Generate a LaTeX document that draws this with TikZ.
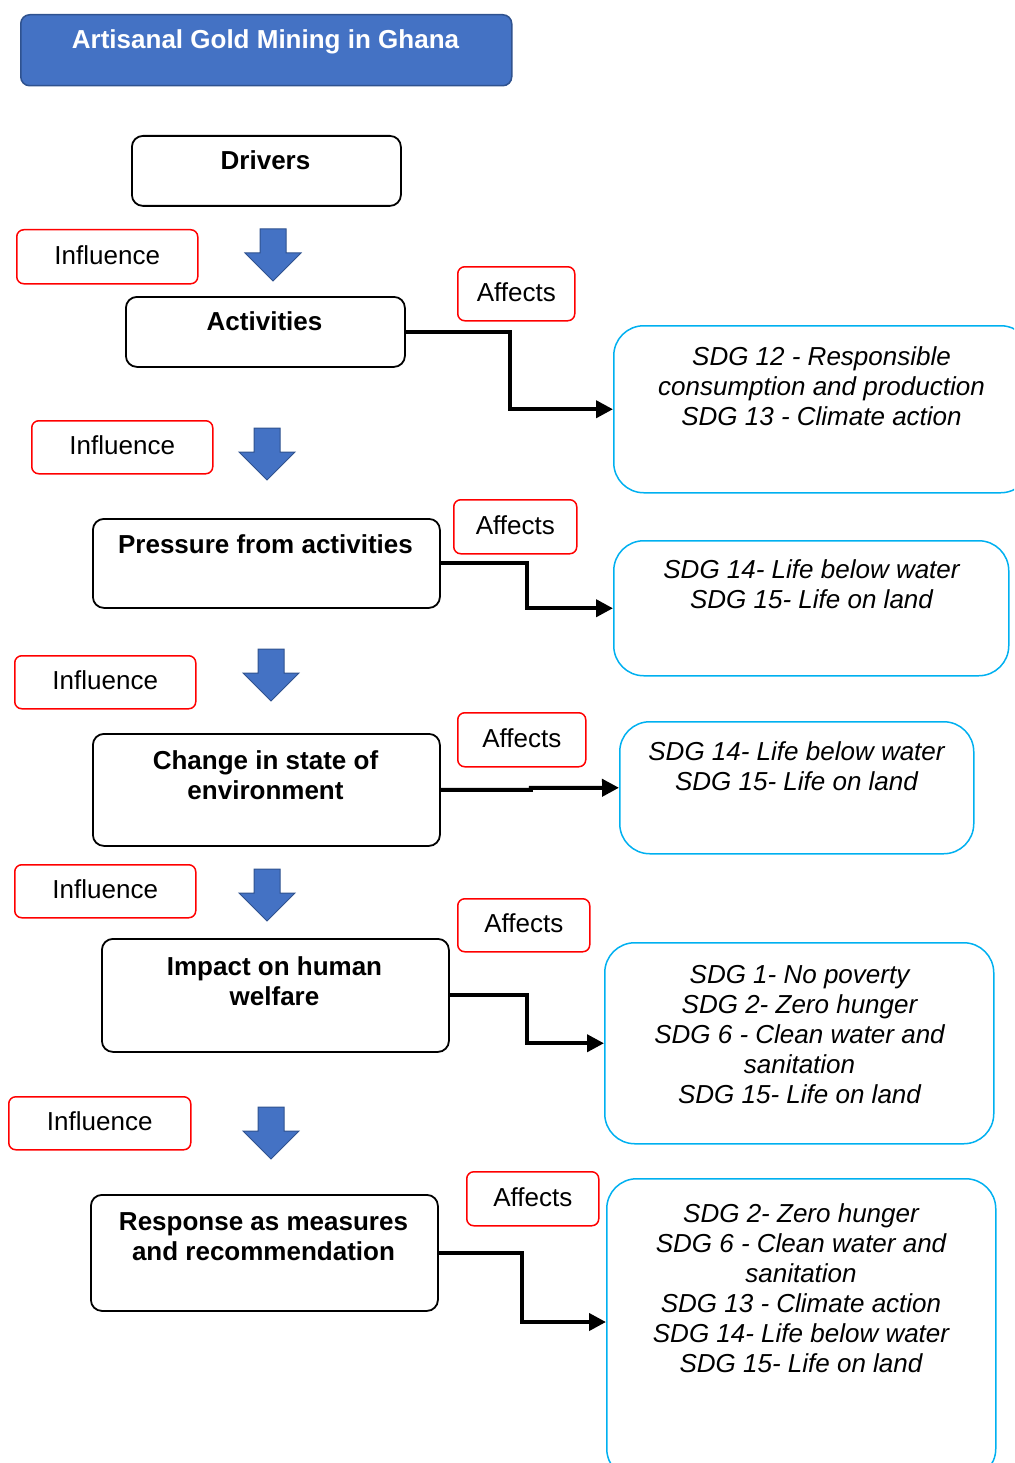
\documentclass[tikz,border=0pt]{standalone}
\usepackage{fontspec}
\setmainfont{Liberation Sans}
\usetikzlibrary{arrows.meta,calc}
\definecolor{titleblue}{HTML}{4472C4}
\definecolor{titleedge}{HTML}{2F528F}
\definecolor{sdgedge}{HTML}{00B0F0}
\begin{document}
\begin{tikzpicture}[x=1pt,y=-1pt,
  font=\fontsize{26}{30}\selectfont,
  titlebox/.style={draw=titleedge, fill=titleblue, line width=1.5pt, rounded corners=9pt, inner sep=0pt, anchor=north west},
  mainbox/.style={draw=black, line width=1.8pt, rounded corners=11pt, inner sep=0pt, anchor=north west},
  tagbox/.style={draw=red, line width=1.5pt, rounded corners=7pt, inner sep=0pt, anchor=north west},
  tagtext/.style={yshift=2pt},
  sdgbox/.style={draw=sdgedge, line width=1.5pt, rounded corners=30pt, inner sep=0pt, anchor=north west},
  boldtext/.style={font=\fontsize{26}{30}\selectfont\bfseries, align=center, inner sep=0pt, anchor=north},
  sdgtext/.style={font=\fontsize{26}{30}\selectfont\itshape, align=center, inner sep=0pt, anchor=north},
  conn/.style={line width=4pt, -{Triangle[length=17pt,width=17pt]}},
  downarr/.pic={\draw[fill=titleblue, draw=titleedge, line width=1pt]
     (-13,0) -- (13,0) -- (13,24) -- (28,24) -- (0,52) -- (-28,24) -- (-13,24) -- cycle;}
]
\useasboundingbox (0,0) rectangle (1014,1463);
\clip (0,0) rectangle (1014,1463);

% title
\node[titlebox, minimum width=491pt, minimum height=71pt] (title) at (20,14) {};
\node[text=white, font=\fontsize{26}{30}\selectfont\bfseries, anchor=base] (titletext) at (265.5,49) {Artisanal Gold Mining in Ghana};

% main boxes
\node[mainbox, minimum width=269pt, minimum height=70pt] (drivers) at (131,135) {};
\node[boldtext] (driverst) at (265.5,150) {Drivers};

\node[mainbox, minimum width=279pt, minimum height=70pt] (act) at (125,296) {};
\node[boldtext] (actt) at (264.5,311) {Activities};

\node[mainbox, minimum width=347pt, minimum height=89pt] (press) at (92,518) {};
\node[boldtext] (presst) at (265.5,534) {Pressure from activities};

\node[mainbox, minimum width=347pt, minimum height=112pt] (change) at (92,733) {};
\node[boldtext] (changet) at (265.5,750) {Change in state of\\environment};

\node[mainbox, minimum width=347pt, minimum height=113pt] (impact) at (101,938) {};
\node[boldtext] (impactt) at (274.5,956) {Impact on human\\welfare};

\node[mainbox, minimum width=347pt, minimum height=116pt] (resp) at (90,1194) {};
\node[boldtext] (respt) at (263.5,1212) {Response as measures\\and recommendation};

% influence tags
\node[tagbox, minimum width=181pt, minimum height=54pt] (inf1) at (16,229) {};
\node[tagtext] (inf1t) at (inf1.center) {Influence};
\node[tagbox, minimum width=181pt, minimum height=53pt] (inf2) at (31,420) {};
\node[tagtext] (inf2t) at (inf2.center) {Influence};
\node[tagbox, minimum width=181pt, minimum height=53pt] (inf3) at (14,655) {};
\node[tagtext] (inf3t) at (inf3.center) {Influence};
\node[tagbox, minimum width=181pt, minimum height=53pt] (inf4) at (14,864) {};
\node[tagtext] (inf4t) at (inf4.center) {Influence};
\node[tagbox, minimum width=182pt, minimum height=53pt] (inf5) at (8,1096) {};
\node[tagtext] (inf5t) at (inf5.center) {Influence};

% affects tags
\node[tagbox, minimum width=117pt, minimum height=54pt] (aff1) at (457,266) {};
\node[tagtext] (aff1t) at (aff1.center) {Affects};
\node[tagbox, minimum width=123pt, minimum height=54pt] (aff2) at (453,499) {};
\node[tagtext] (aff2t) at (aff2.center) {Affects};
\node[tagbox, minimum width=128pt, minimum height=54pt] (aff3) at (457,712) {};
\node[tagtext] (aff3t) at (aff3.center) {Affects};
\node[tagbox, minimum width=132pt, minimum height=53pt] (aff4) at (457,898) {};
\node[tagtext] (aff4t) at (aff4.center) {Affects};
\node[tagbox, minimum width=132pt, minimum height=54pt] (aff5) at (466,1171) {};
\node[tagtext] (aff5t) at (aff5.center) {Affects};

% SDG boxes
\node[sdgbox, minimum width=417pt, minimum height=167pt] (sdg1) at (613,325) {};
\node[sdgtext] (sdg1t) at (821.5,346) {SDG 12 - Responsible\\consumption and production\\SDG 13 - Climate action};

\node[sdgbox, minimum width=395pt, minimum height=135pt] (sdg2) at (613,540) {};
\node[sdgtext] (sdg2t) at (811.5,559) {SDG 14- Life below water\\SDG 15- Life on land};

\node[sdgbox, minimum width=354pt, minimum height=132pt] (sdg3) at (619,721) {};
\node[sdgtext] (sdg3t) at (796.5,741) {SDG 14- Life below water\\SDG 15- Life on land};

\node[sdgbox, minimum width=389pt, minimum height=201pt] (sdg4) at (604,942) {};
\node[sdgtext] (sdg4t) at (799.5,965) {SDG 1- No poverty\\SDG 2- Zero hunger\\SDG 6 - Clean water and\\sanitation\\SDG 15- Life on land};

\node[sdgbox, minimum width=389pt, minimum height=300pt] (sdg5) at (606,1178) {};
\node[sdgtext] (sdg5t) at (801,1203) {SDG 2- Zero hunger\\SDG 6 - Clean water and\\sanitation\\SDG 13 - Climate action\\SDG 14- Life below water\\SDG 15- Life on land};

% down arrows
\pic at (273,229) {downarr};
\pic at (267,428) {downarr};
\pic at (271,649) {downarr};
\pic at (267,869) {downarr};
\pic at (271,1107) {downarr};

% connectors
\draw[conn] (act.east) -- ++(104,0) |- (sdg1.west);
\draw[conn] (press.east) -- ++(86,0) |- (sdg2.west);
\draw[conn] (change.east) -- ++(90,0) -- ++(0,-2) -- (sdg3.west);
\draw[conn] (impact.east) -- ++(77,0) |- (sdg4.west);
\coordinate (sdg5in) at ($(sdg5.north west)+(0,144)$);
\draw[conn] (resp.east) -- ++(83,0) |- (sdg5in);
\end{tikzpicture}
\end{document}
